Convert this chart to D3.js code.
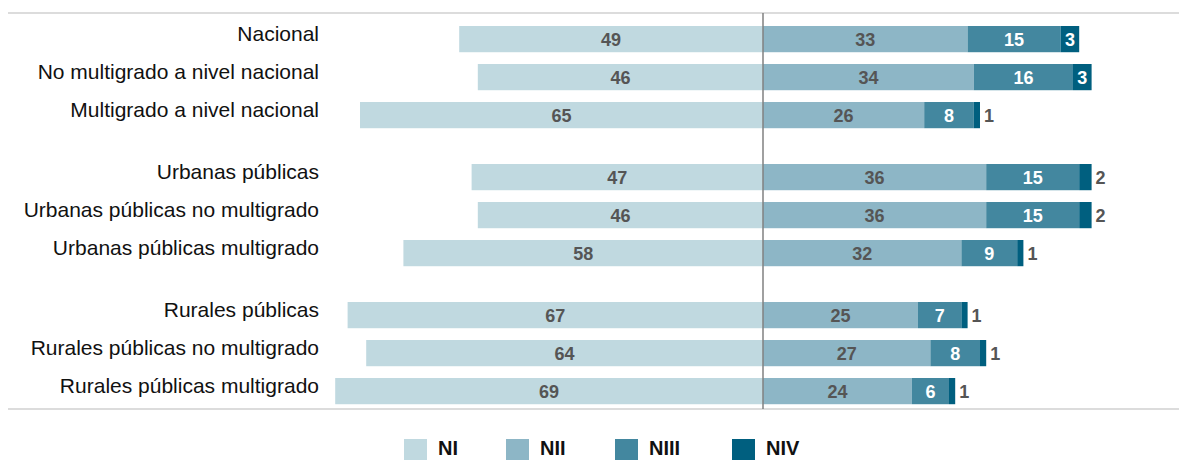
<!DOCTYPE html>
<html>
<head>
<meta charset="utf-8">
<script src="https://cdn.jsdelivr.net/npm/d3@7"></script>
<style>
  body { margin: 0; background: #fff; }
</style>
</head>
<body>
<svg width="1179" height="460"></svg>
<script>
var categories = ["Nacional", "No multigrado a nivel nacional", "Multigrado a nivel nacional",
    "Urbanas públicas", "Urbanas públicas no multigrado", "Urbanas públicas multigrado",
    "Rurales públicas", "Rurales públicas no multigrado", "Rurales públicas multigrado"];
var groups = [0, 0, 0, 1, 1, 1, 2, 2, 2];
var levels = ["NI", "NII", "NIII", "NIV"];
var ni   = [49, 46, 65, 47, 46, 58, 67, 64, 69];
var nii  = [33, 34, 26, 36, 36, 32, 25, 27, 24];
var niii = [15, 16, 8, 15, 15, 9, 7, 8, 6];
var niv  = [3, 3, 1, 2, 2, 1, 1, 1, 1];

var colors = ["#c0d9e0", "#8db6c6", "#43879f", "#005f7f"];
var labelFill = ["#555", "#555", "#fff", "#fff"];

var svg = d3.select("svg"),
    width = +svg.attr("width"),
    height = +svg.attr("height");

var center = 763, unit = 6.2;
var x = d3.scaleLinear([-70, 70], [center - 70*unit, center + 70*unit]);
var step = 38;
var y = d3.scaleBand(categories, [26, 26 + step*(9 - 0.31)]).paddingInner(0.31).paddingOuter(0);
var groupGap = 24;
function yPos(i) { return y(categories[i]) + groups[i]*groupGap; }

var data = categories.map(function(c, i){
    return {cat: c, i: i, vals: [ni[i], nii[i], niii[i], niv[i]]};
});

// frame lines
svg.append("line").attr("x1", 8).attr("x2", 1179).attr("y1", 13).attr("y2", 13)
    .attr("stroke", "#dcdcdc").attr("stroke-width", 2);
svg.append("line").attr("x1", 8).attr("x2", 1179).attr("y1", 409).attr("y2", 409)
    .attr("stroke", "#dcdcdc").attr("stroke-width", 2);

var rows = svg.selectAll(".row").data(data).enter().append("g")
    .attr("class", "row")
    .attr("transform", function(d){ return "translate(0," + yPos(d.i) + ")"; });

var bh = y.bandwidth();

// NI to the left
rows.append("rect")
    .attr("x", function(d){ return x(-d.vals[0]); })
    .attr("y", 0)
    .attr("width", function(d){ return x(0) - x(-d.vals[0]); })
    .attr("height", bh)
    .attr("fill", colors[0]);
rows.append("text")
    .attr("x", function(d){ return (x(-d.vals[0]) + x(0))/2; })
    .attr("y", bh/2)
    .attr("dy", "0.36em")
    .attr("text-anchor", "middle")
    .attr("font-family", "Liberation Sans, Arial, sans-serif")
    .attr("font-weight", "bold")
    .attr("font-size", 18)
    .attr("fill", labelFill[0])
    .text(function(d){ return d.vals[0]; });

// NII..NIV stacked to the right
[1, 2, 3].forEach(function(k){
    function start(d){ var s = 0; for (var j = 1; j < k; j++) s += d.vals[j]; return s; }
    function w(d){ return x(start(d) + d.vals[k]) - x(start(d)); }
    rows.append("rect")
        .attr("x", function(d){ return x(start(d)); })
        .attr("y", 0)
        .attr("width", w)
        .attr("height", bh)
        .attr("fill", colors[k]);
    rows.append("text")
        .attr("x", function(d){
            if (w(d) < 16) return x(start(d) + d.vals[k]) + 4;
            return (x(start(d)) + x(start(d) + d.vals[k]))/2;
        })
        .attr("y", bh/2)
        .attr("dy", "0.36em")
        .attr("text-anchor", function(d){ return w(d) < 16 ? "start" : "middle"; })
        .attr("font-family", "Liberation Sans, Arial, sans-serif")
        .attr("font-weight", "bold")
        .attr("font-size", 18)
        .attr("fill", function(d){ return w(d) < 16 ? "#555" : labelFill[k]; })
        .text(function(d){ return d.vals[k]; });
});

// category labels
rows.append("text")
    .attr("x", 319)
    .attr("y", 15)
    .attr("text-anchor", "end")
    .attr("font-family", "Liberation Sans Narrow, Liberation Sans, sans-serif")
    .attr("font-size", 21)
    .attr("fill", "#111")
    .text(function(d){ return d.cat; });

// center axis line
svg.append("line").attr("x1", x(0)).attr("x2", x(0)).attr("y1", 13).attr("y2", 409)
    .attr("stroke", "#808080").attr("stroke-width", 1.5);

// legend
var legendX = [404, 506, 615, 732];
var lg = svg.selectAll(".lg").data(levels).enter().append("g")
    .attr("class", "lg")
    .attr("transform", function(d, i){ return "translate(" + legendX[i] + ",439)"; });
lg.append("rect").attr("width", 23).attr("height", 21)
    .attr("fill", function(d, i){ return colors[i]; });
lg.append("text").attr("x", 34).attr("y", 9).attr("dy", "0.35em")
    .attr("font-family", "Liberation Sans, Arial, sans-serif")
    .attr("font-weight", "bold").attr("font-size", 20).attr("fill", "#111")
    .text(function(d){ return d; });
</script>
</body>
</html>
